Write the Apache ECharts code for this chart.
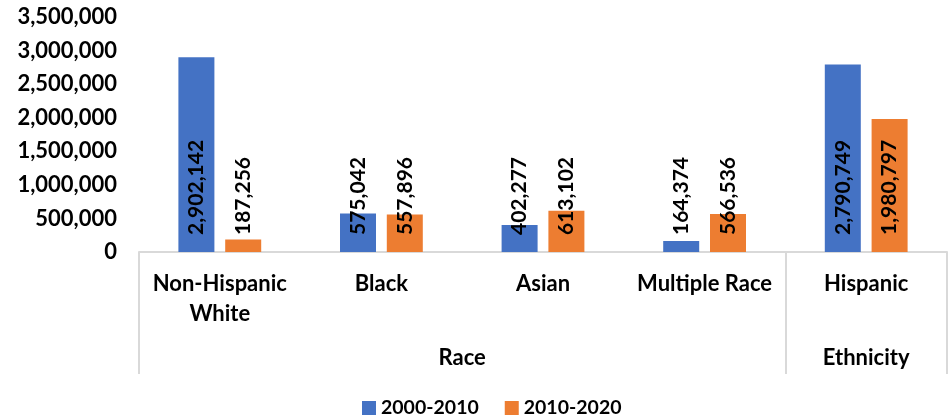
<!DOCTYPE html>
<html>
<head>
<meta charset="utf-8">
<script src="https://cdn.jsdelivr.net/npm/echarts@6/dist/echarts.min.js"></script>
<style>html,body{margin:0;padding:0;background:#fff}#c{width:948px;height:420px}</style>
</head>
<body>
<div id="c"></div>
<script>
const categories = ['Non-Hispanic\nWhite', 'Black', 'Asian', 'Multiple Race', 'Hispanic'];
const series2000_2010 = [2902142, 575042, 402277, 164374, 2790749];
const series2010_2020 = [187256, 557896, 613102, 566536, 1980797];
const groupNames = ['Race', 'Ethnicity'];
const groupLabelPos = [2, 4.5];
const groupBounds = [0, 4, 5];
const yTicks = { min: 0, max: 3500000, interval: 500000 };

const FONT = 'Lato';
const fmt = v => Math.round(v).toLocaleString('en-US');

const chart = echarts.init(document.getElementById('c'), null, { renderer: 'canvas' });
const labelCfg = {
  show: true,
  position: 'insideBottom',
  distance: 17,
  rotate: 90,
  align: 'left',
  verticalAlign: 'middle',
  color: '#000',
  fontFamily: FONT,
  fontWeight: 'bold',
  fontSize: 21,
  formatter: p => fmt(p.value)
};
chart.setOption({
  animation: false,
  textStyle: { fontFamily: FONT },
  grid: { left: 139, right: 1, top: 17, bottom: 168, containLabel: false },
  legend: {
    bottom: -3,
    left: 357,
    itemWidth: 14,
    itemHeight: 14,
    itemGap: 26,
    icon: 'rect',
    textStyle: { fontFamily: FONT, fontWeight: 'bold', fontSize: 19.5, color: '#000' },
    data: ['2000-2010', '2010-2020']
  },
  xAxis: [
    {
      type: 'category',
      data: categories,
      axisLine: { lineStyle: { color: '#D9D9D9', width: 2 } },
      axisTick: { show: false },
      axisLabel: {
        color: '#000', fontFamily: FONT, fontWeight: 'bold', fontSize: 22,
        margin: 17, lineHeight: 30, interval: 0
      }
    },
    {
      type: 'value',
      min: 0, max: 5,
      position: 'bottom',
      axisLine: { show: false },
      splitLine: { show: false },
      axisTick: {
        show: true, length: 122, customValues: groupBounds,
        lineStyle: { color: '#D9D9D9', width: 2 }
      },
      axisLabel: {
        customValues: groupLabelPos,
        margin: 95,
        color: '#000', fontFamily: FONT, fontWeight: 'bold', fontSize: 22,
        formatter: v => groupNames[groupLabelPos.indexOf(v)] || ''
      }
    }
  ],
  yAxis: {
    type: 'value',
    min: yTicks.min, max: yTicks.max, interval: yTicks.interval,
    axisLine: { show: false },
    axisTick: { show: false },
    splitLine: { show: false },
    axisLabel: {
      color: '#000', fontFamily: FONT, fontWeight: 'bold', fontSize: 22, margin: 22,
      formatter: v => fmt(v)
    }
  },
  series: [
    {
      name: '2000-2010', type: 'bar', data: series2000_2010,
      barWidth: 36, barGap: '30%',
      itemStyle: { color: '#4472C4' },
      label: labelCfg
    },
    {
      name: '2010-2020', type: 'bar', data: series2010_2020,
      barWidth: 36,
      itemStyle: { color: '#ED7D31' },
      label: labelCfg
    }
  ]
});
</script>
</body>
</html>
